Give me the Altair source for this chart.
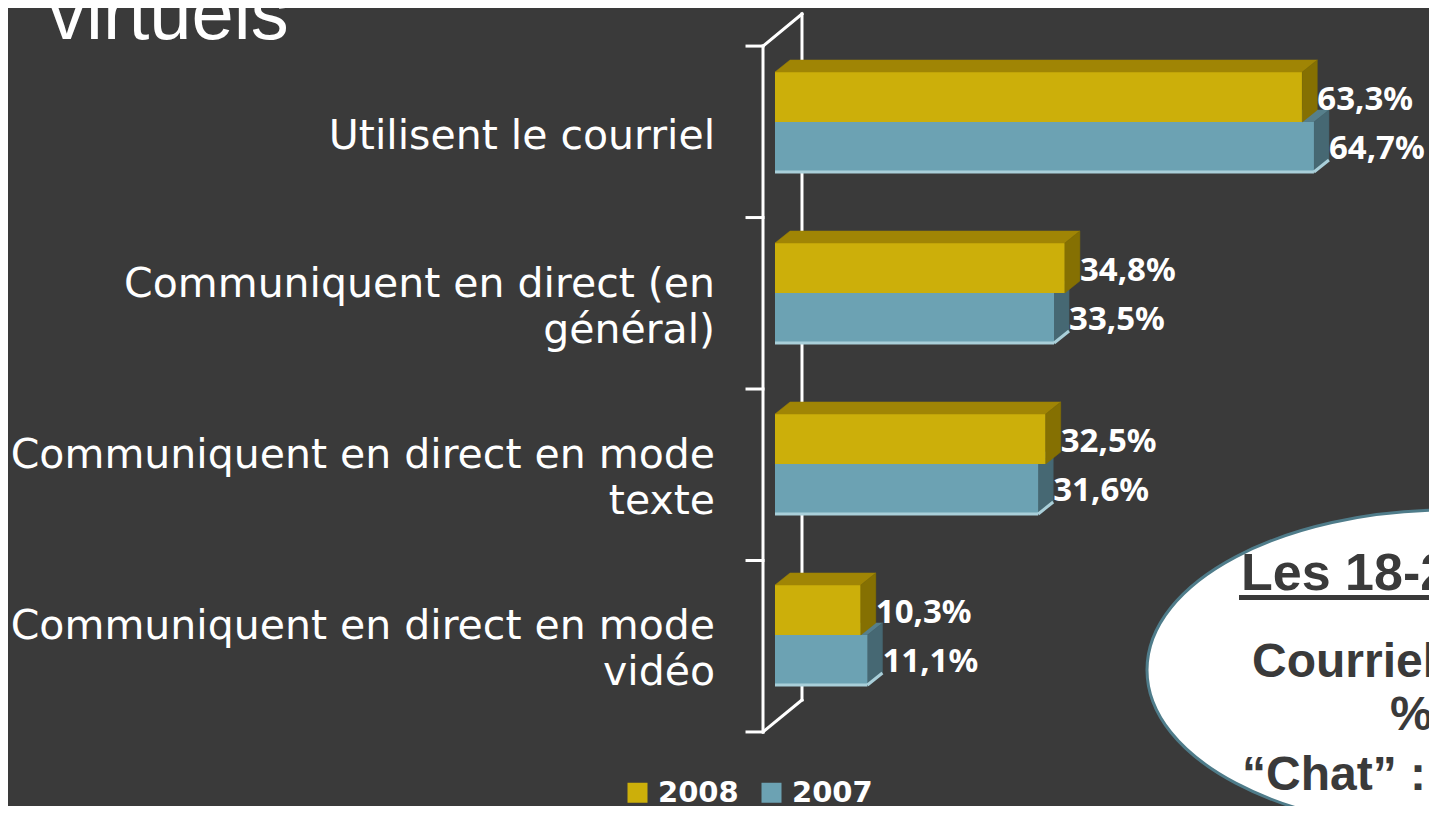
import altair as alt
import pandas as pd

# ---------------- data ----------------
categories = [
    "Utilisent le courriel",
    "Communiquent en direct (en\ngénéral)",
    "Communiquent en direct en mode\ntexte",
    "Communiquent en direct en mode\nvidéo",
]
years = ["2008", "2007"]
values_2008 = [63.3, 34.8, 32.5, 10.3]
values_2007 = [64.7, 33.5, 31.6, 11.1]
title_text = ["virtuels"]
callout_texts = ["Les 18-2", "Courriel", "%", "\u201cChat\u201d :"]

# ---------------- style / geometry ----------------
BG = "#3A3A3A"
WHITE = "#FFFFFF"
COL = {
    "2008": {"front": "#CCAF0A", "top": "#A08505", "side": "#857002"},
    "2007": {"front": "#6CA2B3", "top": "#567F8B", "side": "#466873"},
}
BLUE_EDGE = "#A9CFD9"
CALLOUT_STROKE = "#4F7C8A"
CALLOUT_TEXT = "#3A3A3A"
LABEL_FONT = "DejaVu Sans"
VALUE_FONT = "Noto Sans"

W, H = 1421, 798
STEP_PX = 171.0
XS = alt.Scale(domain=[0, 100], range=[767, 1600], nice=False, zero=False)
YS = alt.Scale(domain=[0, 3], range=[114, 114 + 3 * STEP_PX], nice=False, zero=False)

HALF = 0.2924   # bar thickness (category-step units)
DX = 1.8        # 3D depth along x (% units)
DY = 0.0702     # 3D depth along y (category-step units, upward)
VAL_GAP = 1.8
CAT_X = -7.2
CAT_DY = 0.09
CAT_LINE_H = 46

# axis wall
FRONT_X, BACK_X, TICK_X0 = -1.44, 3.24, -3.36
Y_TOP_F, Y_BOT_F = -0.444, 3.567
Y_TOP_B, Y_BOT_B = -0.632, 3.380

# ---------------- build tables ----------------
fronts, tops, sides, edges, labels = [], [], [], [], []
for i, cat in enumerate(categories):
    for yr, vals in (("2008", values_2008), ("2007", values_2007)):
        v = vals[i]
        top = i - HALF if yr == "2008" else i
        bot = i if yr == "2008" else i + HALF
        key = f"{yr}-{i}"
        fronts.append(dict(year=yr, x=0, x2=v, y=top, y2=bot))
        tops.append(dict(key=key, year=yr, y=top, x=0, x2=v))
        tops.append(dict(key=key, year=yr, y=top - DY, x=DX, x2=v + DX))
        sides.append(dict(key=key, year=yr, x=v, y=top, y2=bot))
        sides.append(dict(key=key, year=yr, x=v + DX, y=top - DY, y2=bot - DY))
        if yr == "2007":
            edges.append(dict(x=0, x2=v, y=bot, y2=bot))
            edges.append(dict(x=v, x2=v + DX, y=bot, y2=bot - DY))
        off = -0.13 if yr == "2008" else 0.155
        labels.append(dict(x=v + VAL_GAP, y=i + off,
                           text=f"{v:.1f}".replace(".", ",") + "%"))

fronts_df = pd.DataFrame(fronts)
tops_df = pd.DataFrame(tops)
sides_df = pd.DataFrame(sides)
edges_df = pd.DataFrame(edges)
labels_df = pd.DataFrame(labels)
cat_y = [i + CAT_DY - (c.count("\n")) * CAT_LINE_H / 2 / STEP_PX
         for i, c in enumerate(categories)]
cats_df = pd.DataFrame(dict(text=categories, x=CAT_X, y=cat_y))

axis_rows = [
    dict(x=FRONT_X, x2=FRONT_X, y=Y_TOP_F, y2=Y_BOT_F),
    dict(x=BACK_X, x2=BACK_X, y=Y_TOP_B, y2=Y_BOT_B),
    dict(x=FRONT_X, x2=BACK_X, y=Y_TOP_F, y2=Y_TOP_B),
    dict(x=FRONT_X, x2=BACK_X, y=Y_BOT_F, y2=Y_BOT_B),
]
for k in range(5):
    yk = Y_TOP_F + k * (Y_BOT_F - Y_TOP_F) / 4
    axis_rows.append(dict(x=TICK_X0, x2=FRONT_X, y=yk, y2=yk))
axis_df = pd.DataFrame(axis_rows)


def X(f="x"):
    return alt.X(f"{f}:Q", scale=XS, axis=None, stack=None)


def Y(f="y"):
    return alt.Y(f"{f}:Q", scale=YS, axis=None, stack=None)


axis_layer = alt.Chart(axis_df).mark_rule(
    color=WHITE, strokeWidth=3, strokeCap="square"
).encode(x=X(), x2="x2:Q", y=Y(), y2="y2:Q")


def top_layer(yr):
    c = COL[yr]["top"]
    return alt.Chart(tops_df[tops_df.year == yr]).mark_area(
        orient="horizontal", color=c, stroke=c, strokeWidth=0.5
    ).encode(y=Y(), x=X(), x2="x2:Q", detail="key:N")


def side_layer(yr):
    c = COL[yr]["side"]
    return alt.Chart(sides_df[sides_df.year == yr]).mark_area(
        orient="vertical", color=c, stroke=c, strokeWidth=0.5
    ).encode(x=X(), y=Y(), y2="y2:Q", detail="key:N")


front_layer = alt.Chart(fronts_df).mark_rect().encode(
    x=X(), x2="x2:Q", y=Y(), y2="y2:Q",
    color=alt.Color(
        "year:N",
        scale=alt.Scale(domain=years, range=[COL[y]["front"] for y in years]),
        legend=alt.Legend(
            title=None, orient="none", direction="horizontal",
            legendX=615, legendY=770, symbolType="square", symbolSize=400,
            symbolStrokeWidth=0, labelColor=WHITE, labelFont=LABEL_FONT,
            labelFontSize=29, labelFontWeight="bold", labelOffset=6,
            columnPadding=18, padding=0,
        ),
    ),
)

edge_layer = alt.Chart(edges_df).mark_rule(
    color=BLUE_EDGE, strokeWidth=3
).encode(x=X(), x2="x2:Q", y=Y(), y2="y2:Q")

value_layer = alt.Chart(labels_df).mark_text(
    align="left", baseline="middle", font=VALUE_FONT, fontSize=33,
    fontWeight="bold", color=WHITE
).encode(x=X(), y=Y(), text="text:N")

cat_layer = alt.Chart(cats_df).mark_text(
    align="right", baseline="middle", font=LABEL_FONT, fontSize=41,
    color=WHITE, lineBreak="\n", lineHeight=CAT_LINE_H
).encode(x=X(), y=Y(), text="text:N")

title_layer = alt.Chart(pd.DataFrame(dict(text=title_text))).mark_text(
    align="left", baseline="alphabetic", font="Liberation Sans", fontSize=76,
    color=WHITE
).encode(x=alt.value(40), y=alt.value(31), text="text:N")

# callout bubble (ellipse as custom symbol path, bezier approximation)
RX, RY = 303, 160
k = RY / RX
kap = 0.5523
ELLIPSE = (
    f"M -1 0 C -1 {-kap*k:.4f} {-kap:.4f} {-k:.4f} 0 {-k:.4f} "
    f"C {kap:.4f} {-k:.4f} 1 {-kap*k:.4f} 1 0 "
    f"C 1 {kap*k:.4f} {kap:.4f} {k:.4f} 0 {k:.4f} "
    f"C {-kap:.4f} {k:.4f} -1 {kap*k:.4f} -1 0 Z"
)
bubble = alt.Chart(pd.DataFrame(dict(a=[1]))).mark_point(
    shape=ELLIPSE, size=(2 * RX) ** 2, filled=True, fill=WHITE,
    stroke=CALLOUT_STROKE, strokeWidth=3, opacity=1
).encode(x=alt.value(1442), y=alt.value(662))

callout_df = pd.DataFrame(dict(
    text=callout_texts,
    px=[1233, 1244, 1382, 1234],
    py=[582, 669, 722, 782],
    size=[52, 48, 48, 48],
))
callout_text = alt.Chart(callout_df).mark_text(
    align="left", baseline="alphabetic", font="Liberation Sans",
    fontWeight="bold", color=CALLOUT_TEXT
).encode(
    x=alt.X("px:Q", scale=None, axis=None),
    y=alt.Y("py:Q", scale=None, axis=None),
    text="text:N",
    size=alt.Size("size:Q", scale=None, legend=None),
)
underline = alt.Chart(pd.DataFrame(dict(a=[1]))).mark_rule(
    color=CALLOUT_TEXT, strokeWidth=5
).encode(x=alt.value(1231), x2=alt.value(1421), y=alt.value(589.5))

chart = alt.layer(
    axis_layer,
    top_layer("2007"), side_layer("2007"),
    front_layer,
    edge_layer,
    top_layer("2008"), side_layer("2008"),
    value_layer, cat_layer, title_layer,
    bubble, callout_text, underline,
).resolve_scale(
    color="independent", size="independent"
).properties(
    width=W, height=H, background=BG, padding=0,
    autosize=alt.AutoSizeParams(type="none"),
).configure_view(stroke=None)

chart.save("out.html", embed_options={"renderer": "svg", "actions": False})
